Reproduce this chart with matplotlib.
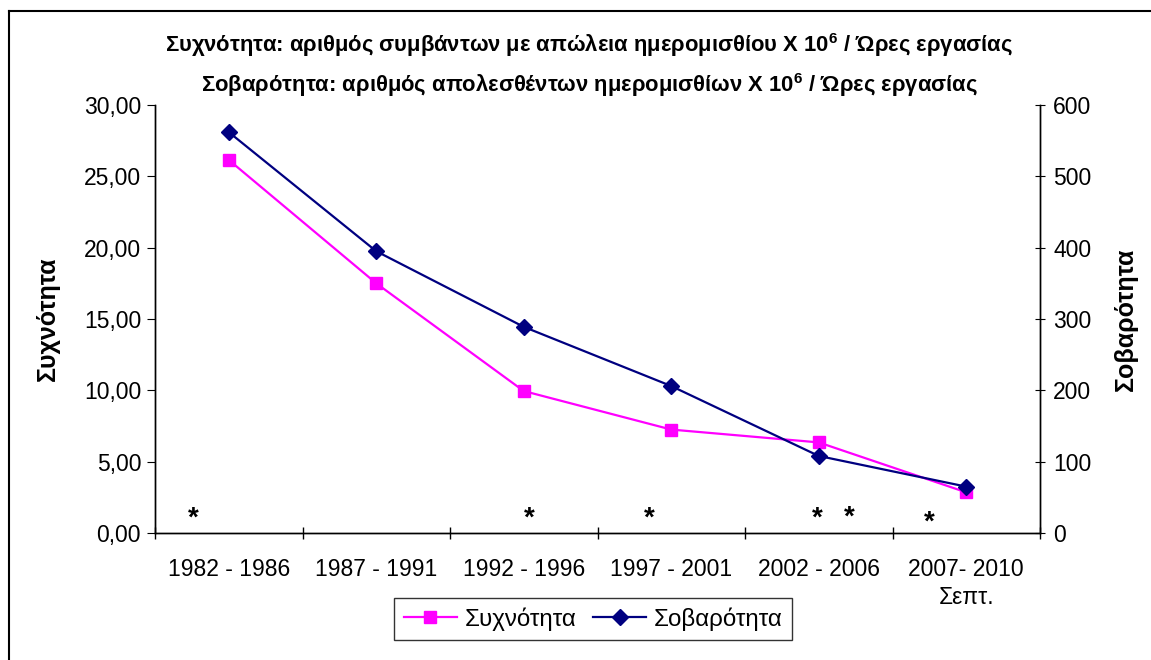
import matplotlib
matplotlib.use("Agg")
import matplotlib.pyplot as plt
from matplotlib.lines import Line2D

plt.rcParams['font.family'] = ['Liberation Sans', 'DejaVu Sans']
plt.rcParams['mathtext.fontset'] = 'custom'
plt.rcParams['mathtext.rm'] = 'Liberation Sans'
plt.rcParams['mathtext.bf'] = 'Liberation Sans:bold'

# data
periods = ["1982 - 1986", "1987 - 1991", "1992 - 1996", "1997 - 2001",
           "2002 - 2006", "2007- 2010\nΣεπτ."]
freq = [26.15, 17.5, 9.95, 7.25, 6.35, 2.85]        # Συχνότητα (left axis)
severity = [562, 395, 289, 206, 108, 65]            # Σοβαρότητα (right axis)
left_ticks = [0, 5, 10, 15, 20, 25, 30]
right_ticks = [0, 100, 200, 300, 400, 500, 600]
# asterisk notes, in category units / left axis units
star_x = [-0.24, 2.04, 2.85, 3.99, 4.21, 4.75]
star_y = [1.0, 1.0, 1.0, 1.0, 1.1, 0.7]

title = ("Συχνότητα: αριθμός συμβάντων με απώλεια ημερομισθίου Χ 10$^{\\mathbf{6}}$ / Ώρες εργασίας\n"
         "Σοβαρότητα: αριθμός απολεσθέντων ημερομισθίων Χ 10$^{\\mathbf{6}}$ / Ώρες εργασίας")

fs = 16.5

fig = plt.figure(figsize=(11.51, 6.6), dpi=100)
ax = fig.add_axes([155/1151, 1-533/660, 885/1151, 428/660])
ax2 = ax.twinx()

x = list(range(len(periods)))
ax.plot(x, freq, color='#ff00ff', lw=1.6, marker='s', ms=8, zorder=3)
ax2.plot(x, severity, color='#000080', lw=1.6, marker='D', ms=8, zorder=3)

ax.set_xlim(-0.5, len(periods) - 0.5)
ax.set_ylim(0, 30)
ax2.set_ylim(0, 600)

ax.set_yticks(left_ticks)
ax.set_yticklabels([("%.2f" % v).replace('.', ',') for v in left_ticks])
ax2.set_yticks(right_ticks)

ax.set_xticks(x)
ax.set_xticklabels(periods, linespacing=1.3, va='top')
ax.set_xticks([i - 0.5 for i in range(len(periods) + 1)], minor=True)
ax.tick_params(axis='x', which='major', length=0, pad=18, labelsize=fs)
ax.tick_params(axis='x', which='minor', length=8, direction='inout', width=1)
ax.tick_params(axis='y', length=6, direction='out', labelsize=fs, pad=4)
ax2.tick_params(axis='y', length=7, direction='inout', labelsize=fs, pad=6)

for a in (ax, ax2):
    a.spines['top'].set_visible(False)
    for s in a.spines.values():
        s.set_linewidth(1.0)

ax.set_ylabel("Συχνότητα", fontsize=18, fontweight='bold', labelpad=17)
ax2.set_ylabel("Σοβαρότητα", fontsize=18, fontweight='bold', labelpad=16)

for sx, sy in zip(star_x, star_y):
    ax.text(sx, sy, "*", fontsize=20, fontweight='bold', ha='center', va='center')

fig.text(589/1151, 1-65/660, title, ha='center', va='center', fontsize=15.8,
         fontweight='bold', linespacing=1.6)

handles = [Line2D([], [], color='#ff00ff', lw=1.6, marker='s', ms=8),
           Line2D([], [], color='#000080', lw=1.6, marker='D', ms=8)]
leg = fig.legend(handles, ["Συχνότητα", "Σοβαρότητα"], loc='center',
                 bbox_to_anchor=(593/1151, 1-619/660), ncol=2, fontsize=17.4,
                 frameon=True, fancybox=False, edgecolor='black', handlelength=2.2,
                 columnspacing=0.7, handletextpad=0.3, borderpad=0.4)
leg.get_frame().set_linewidth(1.0)

# outer chart border (only left and top visible in the reference)
fig.add_artist(Line2D([9/1151, 9/1151], [0, 1-11/660], color='black', lw=1.5,
                      transform=fig.transFigure))
fig.add_artist(Line2D([9/1151, 1], [1-11/660, 1-11/660], color='black', lw=1.5,
                      transform=fig.transFigure))

fig.savefig("out.png", dpi=100)
